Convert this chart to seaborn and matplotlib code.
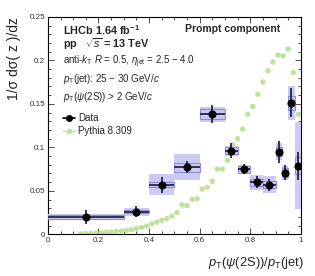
import numpy as np
import pandas as pd
import matplotlib
matplotlib.use("Agg")
import matplotlib.pyplot as plt
from matplotlib.lines import Line2D
from matplotlib.ticker import MultipleLocator, FuncFormatter
import seaborn as sns

# Data: measured z distribution (prompt psi(2S))
bin_lo = [0.0, 0.3, 0.4, 0.5, 0.6, 0.7, 0.75, 0.8, 0.85, 0.9, 0.925, 0.95, 0.975]
bin_hi = [0.3, 0.4, 0.5, 0.6, 0.7, 0.75, 0.8, 0.85, 0.9, 0.925, 0.95, 0.975, 1.0]
data_y = [0.020, 0.026, 0.057, 0.077, 0.138, 0.096, 0.075, 0.060, 0.057, 0.095, 0.071, 0.151, 0.079]
stat_err = [0.008, 0.006, 0.009, 0.007, 0.0105, 0.0085, 0.006, 0.0067, 0.007, 0.0126, 0.009, 0.0167, 0.016]
sys_err = [0.0038, 0.0046, 0.012, 0.015, 0.0085, 0.006, 0.005, 0.0086, 0.0096, 0.0096, 0.008, 0.020, 0.050]
sys_inner = [0.0022, 0.002, 0.003, 0.005, 0.006, 0.004, 0.004, 0.004, 0.004, 0.005, 0.005, 0.008, 0.010]

# Pythia 8.309 prediction
pythia_z = [0.13, 0.15, 0.17, 0.19, 0.21, 0.23, 0.25, 0.27, 0.29, 0.31, 0.33,
            0.35, 0.37, 0.39, 0.41, 0.43, 0.45, 0.47, 0.49, 0.51, 0.53, 0.55,
            0.57, 0.59, 0.61, 0.63, 0.65, 0.67, 0.69, 0.71, 0.73, 0.75, 0.77,
            0.79, 0.81, 0.83, 0.85, 0.87, 0.89, 0.91, 0.93, 0.95, 0.97, 0.99]
pythia_y = [0.0005, 0.0008, 0.0011, 0.0014, 0.0018, 0.0022, 0.0027, 0.0033, 0.0039, 0.0046, 0.0055,
            0.0066, 0.0079, 0.0095, 0.012, 0.014, 0.016, 0.018, 0.021, 0.025, 0.034, 0.033,
            0.040, 0.041, 0.052, 0.054, 0.061, 0.075, 0.075, 0.085, 0.103, 0.110, 0.121,
            0.138, 0.147, 0.161, 0.175, 0.188, 0.198, 0.206, 0.205, 0.213, 0.186, 0.138]

sns.set_style("ticks")
plt.rcParams['font.family'] = ['Liberation Sans', 'DejaVu Sans']
plt.rcParams['mathtext.fontset'] = 'custom'
plt.rcParams['mathtext.rm'] = 'Liberation Sans'
plt.rcParams['mathtext.it'] = 'Liberation Sans:italic'
plt.rcParams['mathtext.bf'] = 'Liberation Sans:bold'

df = pd.DataFrame({"lo": bin_lo, "hi": bin_hi, "y": data_y,
                   "stat": stat_err, "sys": sys_err, "sysin": sys_inner})
df["x"] = (df["lo"] + df["hi"]) / 2
df["w"] = df["hi"] - df["lo"]
pyth = pd.DataFrame({"z": pythia_z, "y": pythia_y})

fig = plt.figure(figsize=(3.15, 2.76), dpi=100)
ax = fig.add_axes([0.152, 0.151, 0.803, 0.788])

green = '#bfe29c'
sns.scatterplot(data=pyth, x="z", y="y", ax=ax, color=green, s=15,
                edgecolor='none', zorder=2, legend=False)

# systematic boxes (total and inner part)
ax.bar(df["lo"], 2 * df["sys"], bottom=df["y"] - df["sys"], width=df["w"],
       align='edge', color='#cacaf2', edgecolor='none', zorder=3)
ax.bar(df["lo"], 2 * df["sysin"], bottom=df["y"] - df["sysin"], width=df["w"],
       align='edge', facecolor='none', edgecolor='#8c8ce0', linewidth=0.8, zorder=4)

ax.errorbar(df["x"], df["y"], xerr=df["w"] / 2, yerr=df["stat"], fmt='o',
            color='black', ecolor='#1a1a2a', ms=4.8, elinewidth=1.2, capsize=0, zorder=5)

ax.set_xlim(0, 1)
ax.set_ylim(0, 0.25)
ax.xaxis.set_major_locator(MultipleLocator(0.2))
ax.xaxis.set_minor_locator(MultipleLocator(0.05))
ax.yaxis.set_major_locator(MultipleLocator(0.05))
ax.yaxis.set_minor_locator(MultipleLocator(0.01))
fmt = FuncFormatter(lambda v, p: ('%g' % round(v, 3)))
ax.xaxis.set_major_formatter(fmt)
ax.yaxis.set_major_formatter(fmt)
ax.tick_params(which='both', direction='in', top=True, right=True, labelsize=5.8,
               width=0.6, color='#333333', labelcolor='#333333', pad=2)
ax.tick_params(which='major', length=4)
ax.tick_params(which='minor', length=2)
for s in ax.spines.values():
    s.set_linewidth(0.8)
    s.set_color('black')

ax.set_xlabel(r'$p_{\mathrm{T}}(\psi\mathrm{(2S)})/p_{\mathrm{T}}\mathrm{(jet)}$', fontsize=9.3)
ax.xaxis.set_label_coords(1.01, -0.095)
ax.xaxis.label.set_horizontalalignment('right')
ax.set_ylabel('1/σ dσ( z )/dz', fontsize=10)
ax.yaxis.set_label_coords(-0.105, 1.0)
ax.yaxis.label.set_horizontalalignment('right')

ax.text(0.06, 0.94, r'LHCb 1.64 fb$^{\mathbf{-1}}$', transform=ax.transAxes,
        fontsize=7.8, fontweight='bold', va='center')
ax.text(0.06, 0.876, r'pp   $\sqrt{s}$ = 13 TeV', transform=ax.transAxes,
        fontsize=7.8, fontweight='bold', va='center')
ax.text(0.06, 0.793, r'anti-$k_{\mathrm{T}}$ $R$ = 0.5, $\eta_{\mathrm{jet}}$ = 2.5 $-$ 4.0',
        transform=ax.transAxes, fontsize=7, va='center')
ax.text(0.06, 0.715, r'$p_{\mathrm{T}}$(jet): 25 $-$ 30 GeV/$c$',
        transform=ax.transAxes, fontsize=7, va='center')
ax.text(0.06, 0.632, r'$p_{\mathrm{T}}(\psi$(2S)) > 2 GeV/$c$',
        transform=ax.transAxes, fontsize=7, va='center')
ax.text(0.92, 0.945, 'Prompt component', transform=ax.transAxes,
        fontsize=7.5, fontweight='bold', va='center', ha='right')

handles = [Line2D([], [], color='black', marker='o', ms=4, lw=1.2),
           Line2D([], [], color=green, marker='o', ms=4, lw=1.0, mec='none')]
ax.legend(handles, ['Data', 'Pythia 8.309'], loc='upper left',
          bbox_to_anchor=(0.04, 0.58), frameon=False, fontsize=7,
          handlelength=1.2, handletextpad=0.4, labelspacing=0.3, borderpad=0)

fig.savefig('out.png', dpi=100)
